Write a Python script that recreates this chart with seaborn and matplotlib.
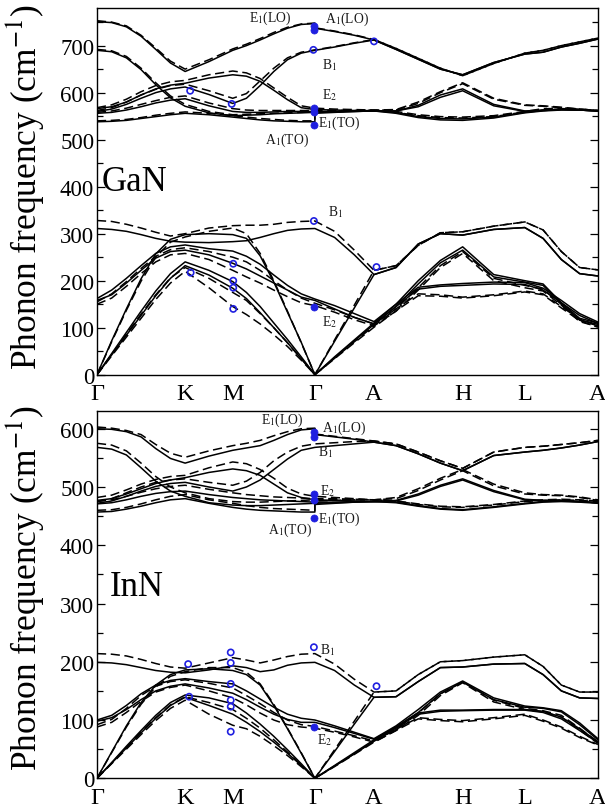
import matplotlib
matplotlib.use("Agg")
import matplotlib.pyplot as plt
from matplotlib.ticker import MultipleLocator
import numpy as np
import pandas as pd
import seaborn as sns

# ---------------- k-path sample positions (Gamma appears twice: LO/TO split) -------------
K_PATH = [0, .0293, .0587, .088, .1173, .1467, .176, .2235, .271, .2983, .3257, .353,
          .3803, .4077, .435, .435, .4743, .5137, .553, .597, .6413, .6855, .730,
          .792, .854, .8905, .927, .9635, 1.0]
SYM_X = [0, .176, .271, .435, .553, .730, .854, 1.0]
SYM_LABELS = ["Γ", "K", "M", "Γ", "A", "H", "L", "A"]

# ---------------- GaN, solid (model 1) ----------------
gan_solid = [
    [751, 749, 740, 720, 692, 663, 645, 666, 690, 700, 712, 725, 737, 745, 747, 737, 730, 722, 712, 692, 671, 650, 638, 664, 682, 686, 697, 705, 714],
    [560, 565, 575, 588, 600, 608, 612, 596, 577, 588, 615, 645, 670, 684, 690, 690, 697, 705, 712, 692, 671, 650, 638, 664, 682, 686, 697, 705, 714],
    [566, 570, 580, 595, 608, 616, 620, 631, 638, 635, 624, 605, 585, 568, 564, 564, 563, 562, 561, 561, 573, 595, 608, 575, 561, 563, 565, 563, 561],
    [556, 558, 563, 570, 578, 584, 587, 572, 560, 558, 558, 559, 560, 560, 560, 560, 560, 560, 561, 561, 570, 590, 604, 572, 560, 562, 564, 563, 561],
    [690, 687, 674, 649, 617, 589, 571, 557, 551, 552, 553, 555, 556, 557, 558, 558, 559, 560, 561, 558, 549, 545, 544, 548, 558, 562, 564, 563, 561],
    [538, 539, 541, 545, 549, 553, 556, 553, 548, 545, 542, 540, 539, 538, 538, 556, 558, 560, 561, 556, 547, 542, 541, 546, 557, 561, 563, 563, 561],
    [311, 309, 305, 298, 290, 284, 282, 281, 283, 285, 292, 300, 307, 310, 311, 311, 292, 255, 213, 228, 278, 300, 297, 309, 313, 290, 245, 215, 210],
    [0, 72, 140, 204, 257, 288, 298, 300, 298, 290, 253, 197, 133, 69, 0, 0, 71, 142, 213, 228, 278, 300, 297, 309, 313, 290, 245, 215, 210],
    [162, 180, 205, 232, 258, 272, 276, 268, 263, 252, 235, 212, 190, 172, 161, 161, 147, 130, 113, 150, 200, 243, 272, 213, 200, 193, 153, 120, 110],
    [158, 170, 195, 222, 248, 262, 265, 255, 237, 225, 210, 195, 180, 165, 158, 158, 140, 122, 108, 145, 193, 238, 265, 208, 197, 190, 150, 117, 107],
    [0, 45, 90, 135, 178, 215, 240, 222, 198, 175, 145, 110, 75, 38, 0, 0, 38, 74, 110, 150, 186, 191, 194, 197, 196, 184, 158, 130, 112],
    [0, 42, 84, 126, 168, 205, 232, 212, 184, 162, 132, 100, 68, 34, 0, 0, 36, 72, 107, 145, 182, 188, 190, 193, 192, 180, 153, 126, 109],
]
# ---------------- GaN, dashed (model 2) ----------------
gan_dashed = [
    [753, 750, 742, 722, 695, 667, 650, 670, 693, 703, 715, 728, 739, 746, 748, 738, 731, 723, 713, 694, 673, 652, 636, 662, 684, 690, 700, 708, 716],
    [562, 568, 580, 595, 607, 615, 618, 604, 588, 598, 625, 652, 674, 686, 691, 691, 698, 706, 713, 694, 673, 652, 636, 662, 684, 690, 700, 708, 716],
    [568, 574, 586, 602, 615, 623, 626, 638, 646, 642, 630, 610, 590, 572, 567, 567, 565, 564, 563, 564, 580, 602, 621, 588, 574, 572, 569, 565, 562],
    [558, 561, 567, 575, 583, 590, 593, 578, 566, 563, 562, 562, 562, 562, 562, 562, 562, 562, 563, 563, 577, 600, 619, 586, 573, 571, 568, 565, 562],
    [692, 689, 677, 652, 621, 593, 575, 560, 553, 554, 555, 556, 557, 558, 559, 559, 560, 561, 562, 560, 553, 549, 548, 551, 560, 566, 566, 565, 562],
    [540, 541, 543, 547, 552, 556, 559, 556, 551, 548, 545, 543, 541, 540, 540, 558, 559, 561, 562, 558, 551, 547, 546, 549, 559, 563, 565, 564, 562],
    [328, 326, 320, 312, 303, 295, 300, 312, 317, 318, 318, 320, 324, 326, 327, 327, 305, 265, 222, 232, 275, 302, 304, 316, 325, 308, 262, 228, 223],
    [0, 70, 137, 199, 250, 282, 293, 305, 312, 300, 258, 200, 135, 68, 0, 0, 74, 148, 222, 232, 275, 302, 304, 316, 325, 308, 262, 228, 223],
    [155, 172, 198, 226, 252, 266, 270, 262, 250, 240, 222, 200, 180, 163, 152, 152, 138, 122, 108, 140, 185, 232, 262, 205, 190, 182, 150, 116, 104],
    [150, 163, 188, 215, 240, 255, 258, 245, 222, 208, 195, 180, 166, 153, 147, 147, 133, 117, 104, 135, 180, 228, 258, 200, 185, 178, 148, 113, 102],
    [0, 43, 86, 129, 170, 206, 228, 205, 175, 158, 130, 100, 68, 34, 0, 0, 35, 70, 104, 140, 172, 170, 165, 170, 178, 172, 145, 118, 104],
    [0, 40, 80, 120, 160, 195, 220, 185, 145, 128, 108, 85, 60, 31, 0, 0, 34, 68, 101, 136, 168, 167, 163, 168, 176, 170, 142, 115, 101],
]
# ---------------- InN, solid ----------------
inn_solid = [
    [600, 599, 595, 586, 566, 549, 541, 553, 563, 567, 571, 580, 590, 598, 600, 590, 586, 582, 577, 571, 557, 541, 528, 554, 560, 563, 567, 572, 578],
    [472, 476, 484, 493, 501, 506, 508, 500, 493, 500, 512, 530, 548, 563, 568, 568, 571, 574, 577, 571, 557, 541, 528, 554, 560, 563, 567, 572, 578],
    [477, 480, 488, 497, 506, 512, 516, 525, 531, 528, 520, 505, 490, 482, 478, 478, 477, 476, 475, 477, 488, 503, 514, 494, 479, 477, 477, 475, 473],
    [471, 473, 478, 484, 489, 492, 493, 487, 482, 480, 478, 477, 476, 475, 474, 474, 474, 475, 475, 476, 486, 501, 512, 492, 478, 476, 476, 475, 473],
    [568, 565, 555, 533, 510, 493, 484, 473, 469, 468, 468, 469, 470, 471, 472, 472, 473, 474, 475, 474, 468, 463, 461, 466, 472, 475, 476, 475, 473],
    [457, 458, 462, 467, 473, 478, 480, 472, 465, 462, 460, 459, 458, 457, 457, 470, 472, 474, 475, 473, 467, 462, 460, 465, 471, 474, 475, 474, 472],
    [199, 198, 195, 190, 185, 182, 181, 186, 193, 190, 183, 186, 194, 198, 199, 199, 185, 160, 139, 140, 166, 190, 191, 196, 197, 178, 150, 138, 137],
    [0, 45, 90, 130, 160, 178, 186, 188, 185, 178, 160, 125, 85, 43, 0, 0, 46, 93, 139, 140, 166, 190, 191, 196, 197, 178, 150, 138, 137],
    [100, 108, 125, 145, 160, 168, 171, 166, 162, 150, 136, 122, 110, 103, 100, 100, 90, 79, 68, 90, 118, 148, 167, 138, 124, 121, 116, 95, 68],
    [98, 104, 118, 135, 150, 158, 162, 155, 146, 135, 122, 110, 101, 96, 96, 96, 87, 77, 67, 88, 113, 145, 165, 135, 122, 120, 114, 92, 66],
    [0, 27, 55, 82, 108, 130, 143, 138, 128, 112, 93, 72, 49, 25, 0, 0, 22, 44, 66, 88, 112, 117, 117, 118, 118, 115, 105, 85, 63],
    [0, 26, 52, 78, 103, 125, 139, 125, 110, 96, 80, 62, 43, 22, 0, 0, 21, 42, 64, 86, 110, 115, 116, 117, 117, 113, 102, 82, 61],
]
# ---------------- InN, dashed ----------------
inn_dashed = [
    [603, 601, 597, 590, 573, 558, 551, 562, 571, 575, 580, 588, 595, 600, 601, 591, 587, 583, 579, 574, 560, 545, 532, 560, 568, 570, 573, 576, 580],
    [475, 480, 490, 500, 508, 512, 514, 508, 503, 510, 525, 545, 560, 570, 574, 574, 576, 578, 579, 574, 560, 545, 532, 560, 568, 570, 573, 576, 580],
    [482, 486, 495, 505, 513, 518, 520, 533, 543, 540, 530, 515, 498, 488, 484, 484, 482, 480, 478, 482, 497, 515, 530, 505, 490, 487, 486, 483, 478],
    [475, 478, 484, 491, 497, 501, 503, 496, 490, 487, 485, 483, 482, 481, 480, 480, 480, 479, 478, 480, 494, 512, 528, 502, 488, 486, 485, 482, 477],
    [575, 572, 562, 541, 518, 500, 490, 480, 475, 474, 474, 475, 476, 477, 478, 478, 478, 478, 478, 476, 471, 467, 466, 470, 476, 478, 479, 478, 476],
    [460, 461, 465, 471, 478, 484, 487, 478, 472, 468, 465, 463, 462, 461, 460, 476, 477, 478, 478, 476, 470, 466, 465, 469, 475, 477, 478, 477, 475],
    [214, 213, 210, 204, 197, 191, 189, 198, 207, 203, 198, 203, 209, 213, 214, 214, 196, 170, 148, 150, 178, 200, 202, 208, 212, 192, 160, 148, 148],
    [0, 44, 88, 127, 157, 175, 183, 190, 190, 182, 162, 127, 86, 44, 0, 0, 49, 98, 148, 150, 178, 200, 202, 208, 212, 192, 160, 148, 148],
    [92, 101, 120, 142, 158, 166, 169, 163, 155, 142, 128, 113, 100, 92, 89, 89, 81, 73, 64, 84, 112, 145, 166, 134, 120, 116, 108, 86, 62],
    [88, 96, 113, 132, 148, 156, 160, 150, 138, 126, 112, 100, 92, 88, 86, 86, 79, 71, 62, 82, 108, 142, 164, 131, 118, 114, 105, 83, 60],
    [0, 26, 53, 79, 104, 126, 140, 130, 118, 103, 86, 66, 45, 23, 0, 0, 21, 42, 64, 84, 104, 101, 99, 104, 110, 100, 88, 72, 58],
    [0, 25, 50, 75, 99, 120, 134, 110, 91, 85, 72, 56, 39, 20, 0, 0, 20, 41, 62, 82, 102, 99, 97, 102, 108, 98, 86, 70, 57],
]

# ---------------- experimental points ----------------
gan_filled_x = [0.433, 0.433, 0.433, 0.433, 0.433, 0.433]
gan_filled_y = [741, 734, 568, 559, 531, 145]
gan_open_x = [0.186, 0.187, 0.269, 0.272, 0.272, 0.272, 0.272, 0.432, 0.433, 0.553, 0.558]
gan_open_y = [604, 217, 576, 236, 200, 185, 140, 691, 327, 709, 229]
inn_filled_x = [0.433, 0.433, 0.433, 0.433, 0.433, 0.433]
inn_filled_y = [594, 586, 488, 478, 447, 88]
inn_open_x = [0.182, 0.184, 0.267, 0.267, 0.267, 0.267, 0.267, 0.267, 0.433, 0.558]
inn_open_y = [196, 140, 216, 198, 162, 134, 123, 80, 225, 158]

# ---------------- mode labels ----------------
gan_labels = [("E$_1$(LO)", 0.345, 761, "center"), ("A$_1$(LO)", 0.455, 757, "left"),
              ("B$_1$", 0.449, 661, "left"), ("E$_2$", 0.449, 597, "left"),
              ("E$_1$(TO)", 0.441, 537, "left"), ("A$_1$(TO)", 0.423, 501, "right"),
              ("B$_1$", 0.461, 347, "left"), ("E$_2$", 0.449, 114, "left")]
inn_labels = [("E$_1$(LO)", 0.369, 617, "center"), ("A$_1$(LO)", 0.449, 603, "left"),
              ("B$_1$", 0.441, 562, "left"), ("E$_2$", 0.445, 495, "left"),
              ("E$_1$(TO)", 0.441, 446, "left"), ("A$_1$(TO)", 0.429, 428, "right"),
              ("B$_1$", 0.445, 222, "left"), ("E$_2$", 0.439, 67, "left")]

sns.set_theme(style="white")
plt.rcParams["font.family"] = ["Liberation Serif", "DejaVu Serif"]
plt.rcParams["mathtext.fontset"] = "stix"
plt.rcParams["text.color"] = "black"
plt.rcParams["axes.labelcolor"] = "black"
plt.rcParams["xtick.color"] = "black"
plt.rcParams["ytick.color"] = "black"

BLUE = "#1f1fe0"


def long_frame(solid, dashed):
    rows = []
    for name, bands in (("solid", solid), ("dashed", dashed)):
        for b, vals in enumerate(bands):
            assert len(vals) == len(K_PATH)
            for j, (k, f) in enumerate(zip(K_PATH, vals)):
                rows.append({"k": k, "freq": f, "branch": f"{name}{b}", "method": name, "order": j})
    return pd.DataFrame(rows)


def draw_panel(ax, solid, dashed, fx, fy, ox, oy, labels, name, name_xy, ymax, ycenter):
    df = long_frame(solid, dashed)
    sns.lineplot(data=df, x="k", y="freq", units="branch", estimator=None,
                 style="method", style_order=["solid", "dashed"],
                 dashes={"solid": "", "dashed": (6, 3)}, color="black",
                 lw=1.1, sort=False, legend=False, ax=ax)
    sns.scatterplot(x=ox, y=oy, ax=ax, s=20, marker="o", facecolors="none",
                    edgecolors=BLUE, linewidth=1.2, zorder=5, legend=False)
    sns.scatterplot(x=fx, y=fy, ax=ax, s=26, marker="o", color=BLUE,
                    edgecolor=BLUE, linewidth=0.5, zorder=6, legend=False)
    for txt, x, y, ha in labels:
        ax.text(x, y, txt, ha=ha, va="center", fontsize=9.8, color="#1a1a1a")
    ax.text(name_xy[0], name_xy[1], name, ha="left", va="center", fontsize=25)
    ax.set_xlim(0, 1)
    ax.set_ylim(0, ymax)
    ax.set_xticks(SYM_X)
    ax.set_xticklabels(SYM_LABELS)
    ax.tick_params(axis="x", length=0, labelsize=17.5, pad=6)
    ax.yaxis.set_major_locator(MultipleLocator(100))
    ax.yaxis.set_minor_locator(MultipleLocator(50))
    ax.tick_params(axis="y", which="both", direction="in", left=True, right=True,
                   labelsize=16.5, pad=2)
    ax.tick_params(axis="y", which="major", length=6, width=0.9)
    ax.tick_params(axis="y", which="minor", length=4, width=0.9)
    ax.set_xlabel("")
    ax.set_ylabel("Phonon frequency (cm$^{-1}$)", fontsize=25.5)
    ax.yaxis.set_label_coords(-0.098, ycenter)
    for sp in ax.spines.values():
        sp.set_color("black")
        sp.set_linewidth(1.0)


fig = plt.figure(figsize=(6.05, 8.12), dpi=100)
ax1 = fig.add_axes([0.1603, 0.5373, 0.828, 0.4516])
ax2 = fig.add_axes([0.1603, 0.0403, 0.828, 0.4527])

draw_panel(ax1, gan_solid, gan_dashed, gan_filled_x, gan_filled_y, gan_open_x, gan_open_y,
           gan_labels, "GaN", (0.01, 412), 780, 0.515)
draw_panel(ax2, inn_solid, inn_dashed, inn_filled_x, inn_filled_y, inn_open_x, inn_open_y,
           inn_labels, "InN", (0.026, 330), 631, 0.52)

fig.savefig("out.png", dpi=100)
